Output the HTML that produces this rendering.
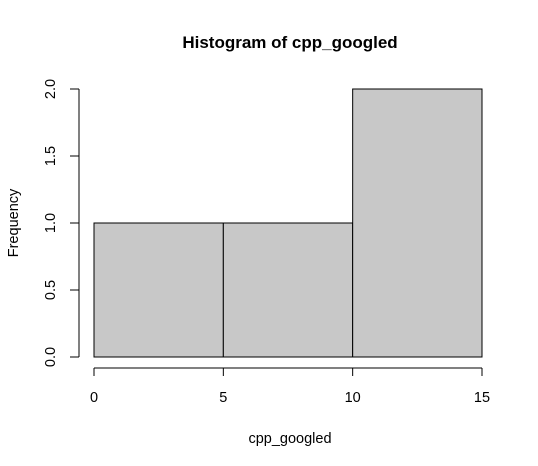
<!DOCTYPE html>
<html><head><style>body{margin:0;background:#fff}svg{display:block}text{font-family:"Liberation Sans",Arial,sans-serif;fill:#000}</style></head>
<body>
<svg width="538" height="466" id="c">
<text x="290" y="48" text-anchor="middle" font-weight="bold" font-size="17">Histogram of cpp_googled</text>
<text x="290" y="443" text-anchor="middle" font-size="14.5">cpp_googled</text>
<text transform="translate(18,223) rotate(-90)" text-anchor="middle" font-size="14.5">Frequency</text>
<g id="bars"></g><g id="axes"></g>
</svg>
<script>
const binEdges=[0,5,10,15];
const counts=[1,1,2];
const xTicks=[0,5,10,15];
const yTicks=[0,0.5,1,1.5,2];
const yTickLabels=["0.0","0.5","1.0","1.5","2.0"];
const NS="http://www.w3.org/2000/svg";
const xs=v=>94+v*(482-94)/15;
const ys=v=>357-v*(357-89)/2;
function mk(t,a,p){const e=document.createElementNS(NS,t);for(const k in a)e.setAttribute(k,a[k]);p.appendChild(e);return e;}
const bars=document.getElementById('bars'),axes=document.getElementById('axes');
counts.forEach((c,i)=>{const r=mk('rect',{x:xs(binEdges[i]),y:ys(c),width:xs(binEdges[i+1])-xs(binEdges[i]),height:ys(0)-ys(c),fill:'#c8c8c8',stroke:'#000','stroke-width':1},bars);

});
const xa=mk('line',{x1:xs(xTicks[0]),x2:xs(xTicks[xTicks.length-1]),y1:368,y2:368,stroke:'#000'},axes);


xTicks.forEach(v=>{mk('line',{x1:xs(v),x2:xs(v),y1:368,y2:376,stroke:'#000'},axes);
const t=mk('text',{x:xs(v),y:402,'text-anchor':'middle','font-size':14.5},axes);t.textContent=v;

});
const ya=mk('line',{x1:79,x2:79,y1:ys(yTicks[0]),y2:ys(yTicks[yTicks.length-1]),stroke:'#000'},axes);


yTicks.forEach((v,i)=>{mk('line',{x1:70,x2:79,y1:ys(v),y2:ys(v),stroke:'#000'},axes);
const t=mk('text',{transform:`translate(55,${ys(v)}) rotate(-90)`,'text-anchor':'middle','font-size':14.5},axes);t.textContent=yTickLabels[i];

});
</script>
</body></html>
